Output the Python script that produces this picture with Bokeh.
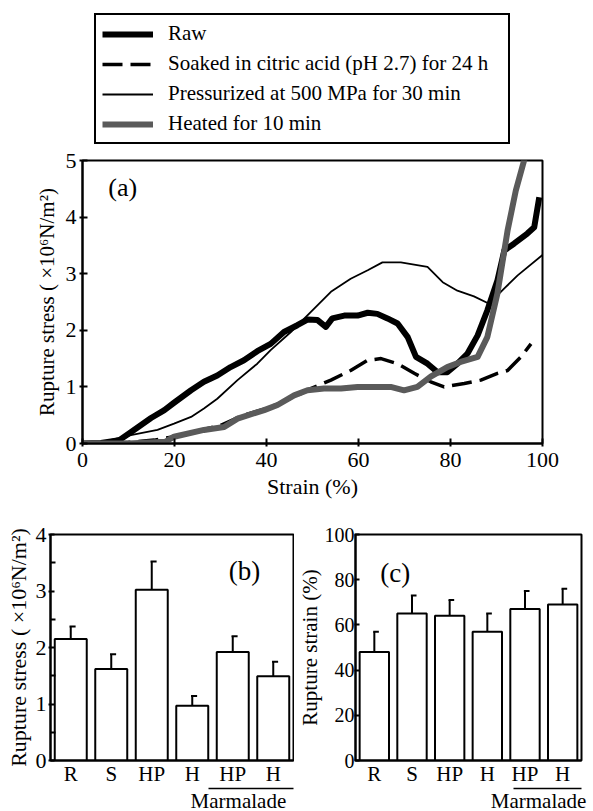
from bokeh.plotting import figure
from bokeh.layouts import column, row
from bokeh.models import Range1d, Legend, LegendItem, Label, FixedTicker, LinearAxis
from bokeh.embed import file_html
from bokeh.resources import INLINE

FONT = "Liberation Serif"

# ---------------- data ----------------
raw_strain = [0, 4, 8, 10.5, 14.9, 17.8, 19.9, 23.6, 26.4, 29.3, 32.2, 35.1, 38, 40.9, 43.8, 46.7,
              48.9, 51.1, 52.9, 54.3, 56.9, 59.8, 62, 64.1, 66.3, 68.5, 70.7, 72.5, 75, 77.2, 79.3,
              81.5, 83.7, 85.9, 88, 90.2, 91.7, 93.8, 96.7, 98.2, 99.3]
raw_stress = [0, 0.01, 0.06, 0.2, 0.45, 0.59, 0.72, 0.94, 1.09, 1.2, 1.35, 1.47, 1.63, 1.76, 1.97, 2.09,
              2.19, 2.18, 2.06, 2.21, 2.26, 2.26, 2.31, 2.29, 2.21, 2.12, 1.88, 1.53, 1.41, 1.26, 1.26,
              1.41, 1.59, 1.91, 2.35, 2.88, 3.41, 3.53, 3.71, 3.82, 4.35]

soak_strain = [0, 10, 15.6, 19.9, 25, 30, 35, 40, 44, 46.7, 49.6, 54, 58.3, 62, 64.9, 68.5, 72.1,
               75.7, 78.6, 83, 86.6, 90.2, 92.4, 95.3, 97.5]
soak_stress = [0, 0.02, 0.06, 0.12, 0.22, 0.32, 0.5, 0.62, 0.75, 0.85, 0.97, 1.12, 1.29, 1.47, 1.5,
               1.41, 1.24, 1.09, 1.0, 1.06, 1.12, 1.24, 1.29, 1.53, 1.76]

press_strain = [0, 4, 10.5, 16.3, 19.9, 23.6, 26.4, 29.3, 33.7, 38, 40.9, 45.3, 49.6, 54, 58.3, 62,
                65.2, 69.2, 75, 78.3, 81.5, 85.1, 88.4, 91.7, 94.6, 100]
press_stress = [0, 0.02, 0.15, 0.24, 0.35, 0.47, 0.62, 0.79, 1.12, 1.41, 1.65, 1.97, 2.32, 2.68, 2.91,
                3.06, 3.2, 3.2, 3.12, 2.85, 2.7, 2.6, 2.47, 2.74, 2.97, 3.33]

heat_strain = [0, 10, 18, 19.9, 26.4, 30.8, 33.7, 39.5, 42.4, 46, 48.9, 52.5, 56.2, 59.8, 67, 69.9,
               72.8, 75.7, 79.3, 82.2, 85.9, 88, 90.2, 92.4, 94.2, 96, 96.8]
heat_stress = [0, 0, 0.03, 0.12, 0.24, 0.29, 0.44, 0.59, 0.68, 0.85, 0.94, 0.97, 0.97, 1.0, 1.0, 0.94,
               1.0, 1.18, 1.35, 1.44, 1.53, 1.88, 2.65, 3.76, 4.47, 5.0, 5.4]

legend_labels = ["Raw", "Soaked in citric acid (pH 2.7) for 24 h",
                 "Pressurized at 500 MPa for 30 min", "Heated for 10 min"]

bar_labels = ["R", "S", "HP", "H", "HP", "H"]
group_label = "Marmalade"
stress_mean = [2.15, 1.62, 3.02, 0.97, 1.92, 1.49]
stress_sd = [0.22, 0.26, 0.50, 0.17, 0.28, 0.26]
strain_mean = [48, 65, 64, 57, 67, 69]
strain_sd = [9, 8, 7, 8, 8, 7]

a_xticks = [0, 20, 40, 60, 80, 100]
a_yticks = [0, 1, 2, 3, 4, 5]
b_yticks = [0, 1, 2, 3, 4]
b_minor = [0.5, 1.5, 2.5, 3.5]
c_yticks = [0, 20, 40, 60, 80, 100]

SERIES = [(raw_strain, raw_stress), (soak_strain, soak_stress),
          (press_strain, press_stress), (heat_strain, heat_stress)]
STYLES = [dict(line_color="black", line_width=6, line_join="round"),
          dict(line_color="black", line_width=3.5, line_dash="20 8"),
          dict(line_color="black", line_width=1.8),
          dict(line_color="#5a5a5a", line_width=6, line_join="round")]


def base_style(p, tick_in=5, tick_out=2):
    p.outline_line_color = "black"
    p.outline_line_width = 2
    p.xgrid.visible = False
    p.ygrid.visible = False
    p.background_fill_color = "white"
    p.border_fill_color = "white"
    for ax in (p.xaxis[0], p.yaxis[0]):
        ax.axis_line_width = 2
        ax.major_tick_line_width = 2
        ax.major_tick_in = tick_in
        ax.major_tick_out = tick_out
        ax.minor_tick_line_color = None
        ax.major_label_text_font = FONT
        ax.major_label_text_font_size = "22px"
        ax.major_label_text_color = "black"
        ax.axis_label_text_font = FONT
        ax.axis_label_text_font_style = "normal"
        ax.axis_label_text_color = "black"


def bar_xaxis(p, ticks, overrides):
    ax = p.xaxis[0]
    ax.ticker = FixedTicker(ticks=ticks)
    ax.major_label_overrides = overrides
    ax.major_tick_line_color = None
    ax.major_tick_in = 0
    ax.major_tick_out = 0
    ax.major_label_standoff = 1
    ax.major_label_text_font_size = "21px"


def group_axis(p, bounds, center):
    ax = LinearAxis(bounds=bounds, ticker=FixedTicker(ticks=[center]),
                    major_label_overrides={center: group_label})
    ax.axis_line_color = "black"
    ax.axis_line_width = 1.5
    ax.major_tick_line_color = None
    ax.major_tick_in = 0
    ax.major_tick_out = 0
    ax.minor_tick_line_color = None
    ax.major_label_standoff = 0
    ax.major_label_text_font = FONT
    ax.major_label_text_font_size = "21px"
    ax.major_label_text_color = "black"
    p.add_layout(ax, "below")


# ---------------- legend strip ----------------
pl = figure(frame_width=593, frame_height=146, min_border=0,
            x_range=Range1d(-2, -1), y_range=Range1d(0, 1),
            output_backend="svg", toolbar_location=None)
pl.axis.visible = False
pl.xgrid.visible = False
pl.ygrid.visible = False
pl.outline_line_color = None
leg_r = [pl.line(xs, ys, **st) for (xs, ys), st in zip(SERIES, STYLES)]
legend = Legend(items=[LegendItem(label=lab, renderers=[r]) for lab, r in zip(legend_labels, leg_r)],
                location=(94, 2), padding=6, spacing=5,
                glyph_width=51, glyph_height=24, label_height=24, label_width=334,
                label_standoff=15,
                label_text_font=FONT, label_text_font_size="21px", label_text_color="black",
                border_line_color="black", border_line_width=2.5, border_line_alpha=1,
                background_fill_color="white", background_fill_alpha=1)
pl.add_layout(legend, "center")

# ---------------- panel (a) ----------------
pa = figure(frame_width=460, frame_height=283, min_border_left=82, min_border_right=51,
            min_border_top=14, min_border_bottom=67,
            x_range=Range1d(0, 100), y_range=Range1d(0, 5),
            output_backend="svg", toolbar_location=None)
base_style(pa, tick_in=5, tick_out=3)
pa.xaxis.ticker = FixedTicker(ticks=a_xticks)
pa.yaxis.ticker = FixedTicker(ticks=a_yticks)
pa.xaxis.axis_label = "Strain (%)"
pa.yaxis.axis_label = "Rupture stress ( \u00d710\u2076N/m\u00b2)"
pa.xaxis.axis_label_text_font_size = "22px"
pa.yaxis.axis_label_text_font_size = "21px"
pa.xaxis.major_label_standoff = 6
pa.yaxis.major_label_standoff = 3
pa.xaxis.axis_label_standoff = 4
pa.yaxis.axis_label_standoff = 4

for idx in (2, 1, 0, 3):
    xs, ys = SERIES[idx]
    pa.line(xs, ys, **STYLES[idx])

pa.add_layout(Label(x=5.6, y=4.52, text="(a)", text_font=FONT, text_font_size="26px",
                    text_baseline="middle", text_align="left", text_color="black"))

# ---------------- panel (b) ----------------
bx = [i + 0.5 for i in range(len(bar_labels))]
tick_over = {x: lab for x, lab in zip(bx, bar_labels)}

pb = figure(frame_width=243, frame_height=226, min_border_left=50, min_border_right=1,
            min_border_top=24, min_border_bottom=51,
            x_range=Range1d(0, 6), y_range=Range1d(0, 4),
            output_backend="svg", toolbar_location=None)
base_style(pb, tick_in=4, tick_out=2)
bar_xaxis(pb, bx, tick_over)
pb.yaxis.ticker = FixedTicker(ticks=b_yticks, minor_ticks=b_minor)
pb.yaxis.minor_tick_line_color = "black"
pb.yaxis.minor_tick_line_width = 2
pb.yaxis.minor_tick_in = 5
pb.yaxis.minor_tick_out = 0
pb.yaxis.axis_label = "Rupture stress ( \u00d710\u2076N/m\u00b2)"
pb.yaxis.axis_label_text_font_size = "22px"
pb.yaxis.major_label_standoff = 2
pb.yaxis.axis_label_standoff = 2

pb.vbar(x=bx, top=stress_mean, width=0.79, fill_color="white", line_color="black", line_width=2)
b_top = [m + s for m, s in zip(stress_mean, stress_sd)]
pb.segment(x0=bx, y0=stress_mean, x1=bx, y1=b_top, line_color="black", line_width=2)
pb.segment(x0=[x - 0.03 for x in bx], y0=b_top, x1=[x + 0.12 for x in bx], y1=b_top,
           line_color="black", line_width=2)
pb.add_layout(Label(x=4.4, y=3.36, text="(b)", text_font=FONT, text_font_size="27px",
                    text_baseline="middle", text_align="left", text_color="black"))
group_axis(pb, (3.9, 6.0), 4.64)

# ---------------- panel (c) ----------------
pc = figure(frame_width=226, frame_height=226, min_border_left=58, min_border_right=15,
            min_border_top=24, min_border_bottom=51,
            x_range=Range1d(0, 6), y_range=Range1d(0, 100),
            output_backend="svg", toolbar_location=None)
base_style(pc, tick_in=4, tick_out=1)
bar_xaxis(pc, bx, tick_over)
pc.yaxis.ticker = FixedTicker(ticks=c_yticks)
pc.yaxis.major_label_text_font_size = "20px"
pc.yaxis.axis_label = "Rupture strain (%)"
pc.yaxis.axis_label_text_font_size = "21px"
pc.yaxis.major_label_standoff = 0
pc.yaxis.axis_label_standoff = 0

pc.vbar(x=bx, top=strain_mean, width=0.78, fill_color="white", line_color="black", line_width=2)
c_top = [m + s for m, s in zip(strain_mean, strain_sd)]
pc.segment(x0=bx, y0=strain_mean, x1=bx, y1=c_top, line_color="black", line_width=2)
pc.segment(x0=[x - 0.03 for x in bx], y0=c_top, x1=[x + 0.12 for x in bx], y1=c_top,
           line_color="black", line_width=2)
pc.add_layout(Label(x=0.66, y=83, text="(c)", text_font=FONT, text_font_size="27px",
                    text_baseline="middle", text_align="left", text_color="black"))
group_axis(pc, (4.2, 6.0), 4.86)

layout = column(pl, pa, row(pb, pc))
open("out.html", "w").write(file_html(layout, INLINE))
